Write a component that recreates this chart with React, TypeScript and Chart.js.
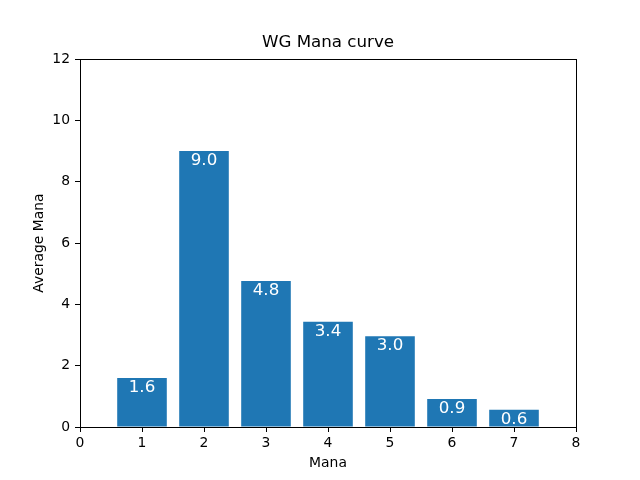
import React, { useRef, useEffect } from "react";
import { Chart, registerables, Plugin } from "chart.js";

Chart.register(...registerables);

const manaCosts = [1, 2, 3, 4, 5, 6, 7];
const averageMana = [1.6, 9.0, 4.76, 3.43, 2.96, 0.91, 0.56];
const xTicks = [0, 1, 2, 3, 4, 5, 6, 7, 8];
const yTicks = [0, 2, 4, 6, 8, 10, 12];

const FONT = "'DejaVu Sans', sans-serif";

// full box around the plot area (matplotlib style spines)
const frame: Plugin<"bar"> = {
  id: "frame",
  afterDraw(chart) {
    const { ctx, chartArea } = chart;
    ctx.save();
    ctx.strokeStyle = "#000";
    ctx.lineWidth = 1;
    ctx.strokeRect(
      Math.round(chartArea.left) + 0.5,
      Math.round(chartArea.top) + 0.5,
      Math.round(chartArea.right - chartArea.left),
      Math.round(chartArea.bottom - chartArea.top)
    );
    ctx.restore();
  },
};

// white value labels at the top of each bar
const barLabels: Plugin<"bar"> = {
  id: "barLabels",
  afterDatasetsDraw(chart) {
    const { ctx } = chart;
    const meta = chart.getDatasetMeta(0);
    ctx.save();
    ctx.fillStyle = "#fff";
    ctx.font = `16.7px ${FONT}`;
    ctx.textAlign = "center";
    ctx.textBaseline = "alphabetic";
    meta.data.forEach((bar, i) => {
      ctx.fillText(averageMana[i].toFixed(1), bar.x, bar.y + 14);
    });
    ctx.restore();
  },
};

const App: React.FC = () => {
  const chartRef = useRef<HTMLCanvasElement>(null);
  const chartInstance = useRef<Chart | null>(null);

  useEffect(() => {
    document.body.style.margin = "0";
    if (!chartRef.current) return;
    const ctx = chartRef.current.getContext("2d");
    if (!ctx) return;

    chartInstance.current = new Chart(ctx, {
      type: "bar",
      data: {
        datasets: [
          {
            data: manaCosts.map((m, i) => ({ x: m, y: averageMana[i] })),
            backgroundColor: "#1f77b4",
            borderWidth: 0,
            inflateAmount: 0,
            barPercentage: 0.8,
            categoryPercentage: 1,
          },
        ],
      },
      options: {
        responsive: false,
        animation: false,
        layout: { padding: { left: 16, right: 0, top: 0, bottom: 0 } },
        plugins: {
          legend: { display: false },
          tooltip: { enabled: false },
          title: {
            display: true,
            text: "WG Mana curve",
            color: "#000",
            font: { family: FONT, size: 16.7, weight: "normal" },
            padding: { top: 33, bottom: 6 },
          },
        },
        scales: {
          x: {
            type: "linear",
            min: 0,
            max: 8,
            offset: false,
            afterFit: (scale) => {
              scale.height = 53;
            },
            afterBuildTicks: (scale) => {
              scale.ticks = xTicks.map((v) => ({ value: v }));
            },
            ticks: {
              color: "#000",
              font: { family: FONT, size: 13.9 },
              padding: 3,
              maxRotation: 0,
            },
            grid: {
              drawOnChartArea: false,
              drawTicks: true,
              tickLength: 5,
              color: "#000",
              offset: false,
            },
            border: { display: true, color: "#000" },
            title: {
              display: true,
              text: "Mana",
              color: "#000",
              font: { family: FONT, size: 13.9 },
              padding: { top: 0, bottom: 8 },
            },
          },
          y: {
            type: "linear",
            min: 0,
            max: 12,
            afterFit: (scale) => {
              scale.width = 64;
            },
            afterBuildTicks: (scale) => {
              scale.ticks = yTicks.map((v) => ({ value: v }));
            },
            ticks: {
              color: "#000",
              font: { family: FONT, size: 13.9 },
              padding: 5,
            },
            grid: {
              drawOnChartArea: false,
              drawTicks: true,
              tickLength: 5,
              color: "#000",
            },
            border: { display: true, color: "#000" },
            title: {
              display: true,
              text: "Average Mana",
              color: "#000",
              font: { family: FONT, size: 13.9 },
              padding: { top: 15, bottom: 0 },
            },
          },
          // empty right-hand spacer so the title centres over the plot area
          spacer: {
            type: "linear",
            position: "right",
            afterFit: (scale) => {
              scale.width = 64;
            },
            ticks: { display: false },
            grid: { display: false },
            border: { display: false },
          },
        },
      },
      plugins: [frame, barLabels],
    });

    return () => {
      if (chartInstance.current) {
        chartInstance.current.destroy();
      }
    };
  }, []);

  return (
    <div style={{ width: 640, height: 480, background: "#fff" }}>
      <canvas ref={chartRef} width={640} height={480} style={{ width: 640, height: 480 }}></canvas>
    </div>
  );
};

export default App;
